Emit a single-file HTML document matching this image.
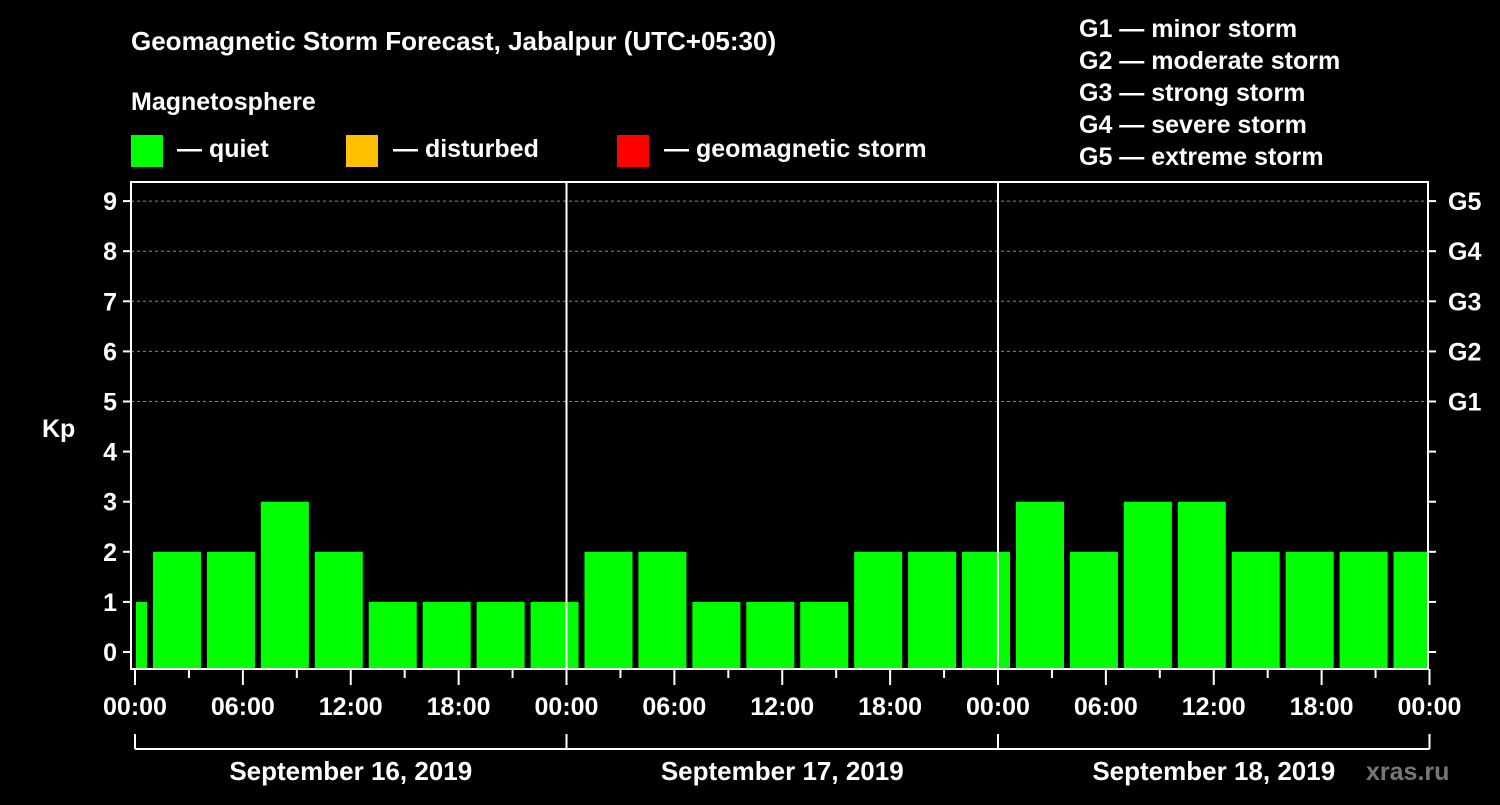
<!DOCTYPE html>
<html><head><meta charset="utf-8"><style>
body{margin:0;background:#000;width:1500px;height:800px;overflow:hidden}
svg text{font-family:"Liberation Sans",sans-serif;font-weight:bold;fill:#fff}
</style></head><body>
<svg id="c" width="1500" height="800">
<text x="131" y="50" font-size="26">Geomagnetic Storm Forecast, Jabalpur (UTC+05:30)</text>
<text x="131" y="110" font-size="25">Magnetosphere</text>
<g><rect x="131" y="135" width="32" height="32" fill="#00ff00"/><text x="177" y="157" font-size="25">— quiet</text></g>
<g><rect x="346" y="135" width="32" height="32" fill="#ffc000"/><text x="393" y="157" font-size="25">— disturbed</text></g>
<g><rect x="617" y="135" width="32" height="32" fill="#ff0000"/><text x="664" y="157" font-size="25">— geomagnetic storm</text></g>
<g font-size="25">
<text x="1079" y="37">G1 — minor storm</text><text x="1079" y="69">G2 — moderate storm</text><text x="1079" y="101">G3 — strong storm</text><text x="1079" y="133">G4 — severe storm</text><text x="1079" y="165">G5 — extreme storm</text></g>
<text x="42" y="437" font-size="25">Kp</text>
<g id="grid"></g><g id="bars"></g><g id="axes"></g>
<text x="1366" y="780" font-size="25" fill="#777" style="fill:#777">xras.ru</text>
</svg>
<script>
const kpValues=[1,2,2,3,2,1,1,1,1,2,2,1,1,1,2,2,2,3,2,3,3,2,2,2,2];
const dayLabels=["September 16, 2019","September 17, 2019","September 18, 2019"];
const timeLabels=["00:00","06:00","12:00","18:00"];
const gLabels=["G1","G2","G3","G4","G5"];
const NS="http://www.w3.org/2000/svg";
const X0=135,DAY=431.5,L=131,R=1428,T=182,B=669;
const xh=h=>X0+h*DAY/24;
const y=v=>652-v*50.1;
function mk(tag,at,par){const e=document.createElementNS(NS,tag);for(const k in at)e.setAttribute(k,at[k]);par.appendChild(e);return e;}
const grid=document.getElementById('grid'),bars=document.getElementById('bars'),axes=document.getElementById('axes');
for(let v=5;v<=9;v++){const l=mk('line',{x1:L,x2:R,y1:y(v),y2:y(v),stroke:'#888','stroke-dasharray':'3,3'},grid);

}
kpValues.forEach((v,i)=>{let x1=xh(i*3-2),x2=x1+48*24/DAY*DAY/24;x2=x1+48;x1=Math.max(x1,L+5);x2=Math.min(x2,R);
const c=v>=5?'#ff0000':(v>=4?'#ffc000':'#00ff00');
const r=mk('rect',{x:x1,y:y(v),width:x2-x1,height:B-y(v),fill:c},bars);

});
mk('rect',{x:L,y:T,width:R-L,height:B-T,fill:'none',stroke:'#fff','stroke-width':2},axes);
for(let d=1;d<3;d++)mk('line',{x1:xh(24*d),x2:xh(24*d),y1:T,y2:B,stroke:'#fff','stroke-width':2},axes);
for(let v=0;v<=9;v++){mk('line',{x1:L-8,x2:L,y1:y(v),y2:y(v),stroke:'#fff','stroke-width':2},axes);
mk('line',{x1:R,x2:R+8,y1:y(v),y2:y(v),stroke:'#fff','stroke-width':2},axes);
const t=mk('text',{x:L-14,y:y(v)+9,'font-size':25,'text-anchor':'end'},axes);t.textContent=v;

}
gLabels.forEach((g,i)=>{const t=mk('text',{x:1448,y:y(5+i)+9,'font-size':25},axes);t.textContent=g;

});
for(let h=0;h<=72;h+=3){const maj=h%6===0;mk('line',{x1:xh(h),x2:xh(h),y1:B,y2:B+(maj?16:9),stroke:'#fff','stroke-width':2},axes);}
for(let h=0;h<=72;h+=6){const t=mk('text',{x:xh(h),y:715,'font-size':25,'text-anchor':'middle'},axes);t.textContent=timeLabels[(h/6)%4];

}
mk('line',{x1:xh(0),x2:xh(72),y1:749,y2:749,stroke:'#fff','stroke-width':2},axes);
for(let d=0;d<=3;d++)mk('line',{x1:xh(24*d),x2:xh(24*d),y1:734,y2:749,stroke:'#fff','stroke-width':2},axes);
dayLabels.forEach((s,d)=>{const t=mk('text',{x:xh(24*d+12),y:780,'font-size':26,'text-anchor':'middle'},axes);t.textContent=s;

});
</script>
</body></html>
